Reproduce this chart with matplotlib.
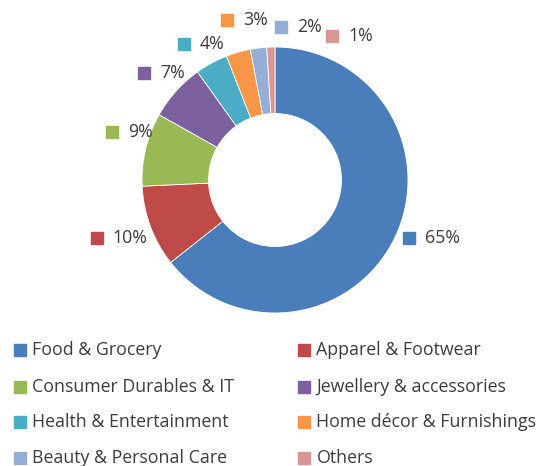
import matplotlib.pyplot as plt
import numpy as np

categories = ['Food & Grocery', 'Apparel & Footwear', 'Consumer Durables & IT',
              'Jewellery & accessories', 'Health & Entertainment',
              'Home décor & Furnishings', 'Beauty & Personal Care', 'Others']
shares = [65, 10, 9, 7, 4, 3, 2, 1]
colors = ['#4A7EBB', '#BE4B48', '#98B954', '#7D60A0', '#4BACC6',
          '#F79646', '#95AED8', '#D99694']

# label placement around the ring: angle nudge (deg) and radius (ring radius = 1)
label_shift = [2.4, -2.5, -3.0, 2.6, 5.3, 0.5, -9.3, -23.4]
label_radius = [1.10, 1.41, 1.28, 1.27, 1.23, 1.255, 1.15, 1.165]

text_color = '#3c3c3c'
font = 'Open Sans'

W, H = 549, 466
cx, cy, R = 275, 180, 133  # ring centre and radius in pixels

fig = plt.figure(figsize=(W / 100, H / 100), dpi=100)
ax = fig.add_axes([0, 0, 1, 1])
ax.axis('off')


def px(x, y):
    return (x - cx) / R, (cy - y) / R


wedges, _ = ax.pie(shares, colors=colors, startangle=90, counterclock=False,
                   radius=1, wedgeprops=dict(width=0.5, edgecolor='white', linewidth=0.6))
ax.set_xlim(-cx / R, (W - cx) / R)
ax.set_ylim(-(H - cy) / R, cy / R)
ax.set_aspect('auto')

gap = 16 / R
for w, val, col, shift, r in zip(wedges, shares, colors, label_shift, label_radius):
    mid = np.deg2rad((w.theta1 + w.theta2) / 2 + shift)
    mx, my = r * np.cos(mid), r * np.sin(mid)
    ax.plot(mx, my, marker='s', markersize=8, color=col, linestyle='none')
    ax.text(mx + gap, my, f'{val}%', ha='left', va='center', fontsize=12.8,
            family=font, weight='medium', color=text_color)

# legend, two columns below the ring
col_x = [19.5, 304]
row_y = [350, 387, 422, 458]
for i, (name, col) in enumerate(zip(categories, colors)):
    x, y = px(col_x[i % 2], row_y[i // 2])
    ax.plot(x, y, marker='s', markersize=8, color=col, linestyle='none')
    ax.text(x + 12.5 / R, y, name, ha='left', va='center', fontsize=12.8,
            family=font, weight='medium', color=text_color)

fig.savefig('out.png', dpi=100, facecolor='white')
